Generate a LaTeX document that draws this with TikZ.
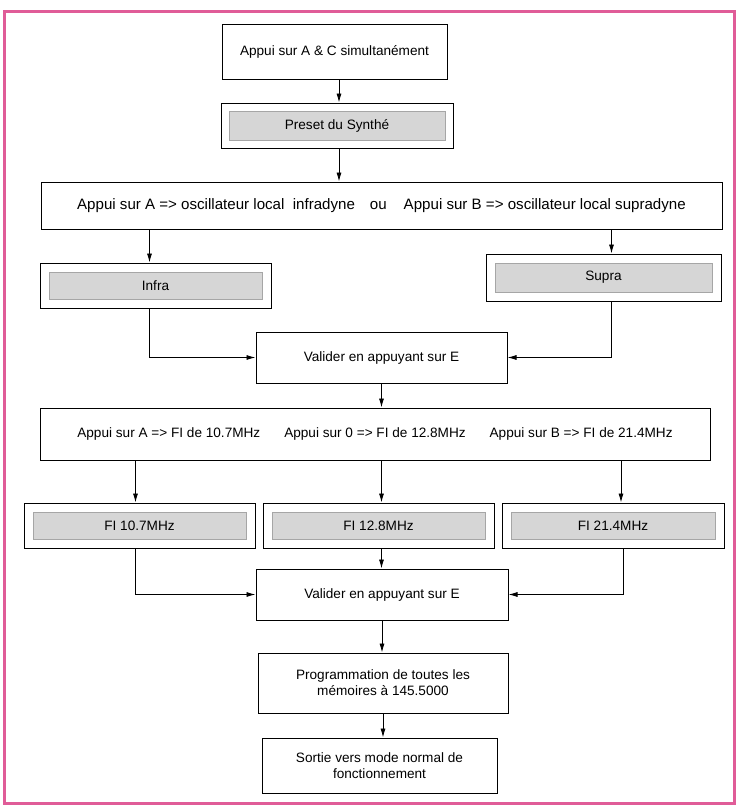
\documentclass[tikz,border=0pt]{standalone}
\usepackage{fontspec}
\setmainfont{Liberation Sans}
\usetikzlibrary{arrows.meta}
\definecolor{framepink}{RGB}{224,92,152}
\definecolor{screengray}{RGB}{214,214,214}

\tikzset{
  box/.style={draw, line width=1pt, inner sep=0pt, align=center, font=\fontsize{13.6}{16}\selectfont},
  screen/.style={box, path picture={\filldraw[fill=screengray, draw=black!35, line width=0.6pt]
      ([shift={(#1,#1)}]path picture bounding box.south west) rectangle
      ([shift={(-#1,-#1)}]path picture bounding box.north east);}},
  screen/.default=9pt,
  arr/.style={-{Latex[length=9pt,width=5pt]}, line width=0.8pt}
}

\begin{document}
\begin{tikzpicture}[x=1pt, y=-1pt]
  \useasboundingbox (0,0) rectangle (737,809);
  % Frame
  \draw[framepink, line width=3pt] (4,11) rectangle (734,803);

  % Start and preset
  \node[box, minimum width=225pt, minimum height=55pt] (start) at (334.5,52) {Appui sur A \& C simultanément};
  \node[screen=8pt, minimum width=232pt, minimum height=45pt] (preset) at (337,125.5) {Preset du Synthé};

  % Choice of local oscillator
  \node[box, minimum width=681pt, minimum height=47pt, font=\fontsize{15.1}{18}\selectfont] (choix) at (381.5,205.5)
    {Appui sur A => oscillateur local~ infradyne\hspace{15pt}ou\hspace{17pt}Appui sur B => oscillateur local supradyne};
  \node[screen, minimum width=231pt, minimum height=45pt] (infra) at (155.5,285.5) {Infra};
  \node[screen, minimum width=235pt, minimum height=47pt] (supra) at (603.5,277.5) {Supra};
  \node[box, minimum width=251pt, minimum height=51pt] (valA) at (381.5,357.5) {Valider en appuyant sur E};

  % Choice of IF
  \node[box, minimum width=670pt, minimum height=52pt] (fichoix) at (375,434)
    {Appui sur A => FI de 10.7MHz\hspace{24pt}Appui sur 0 => FI de 12.8MHz\hspace{24pt}Appui sur B => FI de 21.4MHz};
  \node[screen, minimum width=231pt, minimum height=45pt] (fiA) at (139.5,525.5) {FI 10.7MHz};
  \node[screen, minimum width=231pt, minimum height=45pt] (fiB) at (378.5,525.5) {FI 12.8MHz};
  \node[screen, minimum width=222pt, minimum height=45pt] (fiC) at (613,525.5) {FI 21.4MHz};
  \node[box, minimum width=252pt, minimum height=51pt] (valB) at (382,594.5) {Valider en appuyant sur E};

  % End
  \node[box, minimum width=250pt, minimum height=60pt] (prog) at (383,683) {Programmation de toutes les\\mémoires à 145.5000};
  \node[box, minimum width=235pt, minimum height=55pt] (sortie) at (379.5,765.5) {Sortie vers mode normal de\\fonctionnement};

  % Arrows
  \draw[arr] ([xshift=2pt]preset.north |- start.south) -- ([xshift=2pt]preset.north);
  \draw[arr] ([xshift=2pt]preset.south) -- ([xshift=2pt]preset.south |- choix.north);
  \draw[arr] ([xshift=-6pt]infra.north |- choix.south) -- ([xshift=-6pt]infra.north);
  \draw[arr] ([xshift=8pt]supra.north |- choix.south) -- ([xshift=8pt]supra.north);
  \draw[arr] ([xshift=-6pt]infra.south) |- (valA.west);
  \draw[arr] ([xshift=8pt]supra.south) |- (valA.east);
  \draw[arr] (valA.south) -- (valA.south |- fichoix.north);
  \draw[arr] ([xshift=-4pt]fiA.north |- fichoix.south) -- ([xshift=-4pt]fiA.north);
  \draw[arr] ([xshift=3pt]fiB.north |- fichoix.south) -- ([xshift=3pt]fiB.north);
  \draw[arr] ([xshift=8pt]fiC.north |- fichoix.south) -- ([xshift=8pt]fiC.north);
  \draw[arr] ([xshift=-4pt]fiA.south) |- (valB.west);
  \draw[arr] ([xshift=3pt]fiB.south) -- ([xshift=3pt]fiB.south |- valB.north);
  \draw[arr] ([xshift=10pt]fiC.south) |- (valB.east);
  \draw[arr] (valB.south) -- (valB.south |- prog.north);
  \draw[arr] (prog.south) -- (prog.south |- sortie.north);
\end{tikzpicture}
\end{document}
